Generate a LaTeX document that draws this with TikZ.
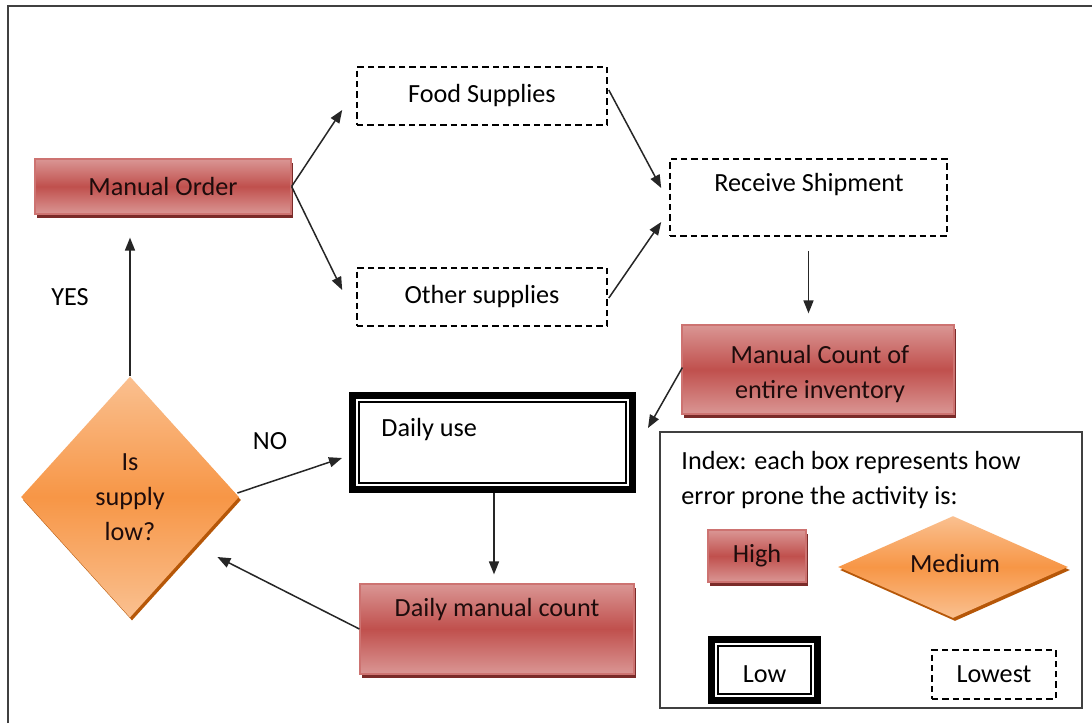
\documentclass[tikz,border=0pt]{standalone}
\usepackage{fontspec}
\setmainfont{Carlito}
\usetikzlibrary{arrows.meta,shapes.geometric,shadows,calc}
\definecolor{redmid}{HTML}{C0504D}
\definecolor{redlight}{HTML}{DA9694}
\definecolor{redshadow}{HTML}{7A2B29}
\definecolor{orgmid}{HTML}{F79646}
\definecolor{orglight}{HTML}{FAC090}
\definecolor{orgshadow}{HTML}{B65708}
\definecolor{framegray}{HTML}{404040}
\definecolor{darktext}{HTML}{1E0C0C}
\begin{document}
\begin{tikzpicture}[x=0.5pt,y=-0.5pt,
  font=\fontsize{13.1}{17.5}\selectfont,
  highbox/.style={rectangle, draw=redmid!80!white, line width=0.6pt,
    top color=redlight, bottom color=redlight, middle color=redmid,
    drop shadow={shadow xshift=1pt, shadow yshift=-1.8pt, fill=redshadow, opacity=1},
    inner sep=0pt, text=darktext, align=center},
  medium/.style={diamond, aspect=1, inner sep=0pt,
    top color=orglight, bottom color=orglight, middle color=orgmid,
    drop shadow={shadow xshift=1pt, shadow yshift=-1.5pt, fill=orgshadow, opacity=1},
    text=darktext, align=center},
  lowbox/.style={rectangle, draw=black, line width=3.5pt, fill=white, inner sep=0pt},
  lowinner/.style={draw=black, line width=0.9pt},
  lowestbox/.style={rectangle, draw=black, line width=0.8pt, dash pattern=on 3.2pt off 2pt, inner sep=0pt},
  legendbox/.style={rectangle, draw=framegray, line width=1pt, inner sep=0pt},
  txt/.style={inner sep=0pt, text=black},
  arr/.style={-{Triangle[length=6.5pt,width=5pt]}, line width=0.75pt, draw=black!85}
]
\useasboundingbox (0,0) rectangle (1092,723);
\fill[white] (0,0) rectangle (1092,723);
% outer frame
\draw[framegray, line width=1.3pt] (8,723) -- (8,6) -- (1092,6);

% flow nodes
\node[highbox, minimum width=128pt, minimum height=27.5pt] (mo) at (163,186.5) {Manual Order};
\node[lowestbox, minimum width=125pt, minimum height=29pt] (food) at (482,96) {Food Supplies};
\node[lowestbox, minimum width=125pt, minimum height=29pt] (other) at (482,297) {Other supplies};
\node[lowestbox, minimum width=138.5pt, minimum height=38.5pt] (recv) at (808.5,197.5) {};
\node[txt] (recvt) at (809,185) {Receive Shipment};
\node[highbox, minimum width=136pt, minimum height=44.5pt] (mc) at (818,369.5) {};
\node[txt, text=darktext, align=center] (mct) at (820,374) {Manual Count of\\entire inventory};
\node[lowbox, minimum width=140pt, minimum height=47pt] (du) at (492.5,442.5) {};
\draw[lowinner] ([xshift=5pt,yshift=-5pt]du.north west) rectangle ([xshift=-5pt,yshift=5pt]du.south east);
\node[txt, anchor=west] (dut) at (381,430) {Daily use};
\node[highbox, minimum width=137pt, minimum height=45pt] (dmc) at (497,629) {};
\node[txt, text=darktext] (dmct) at (497,610) {Daily manual count};
\node[medium, minimum width=109pt, minimum height=120.5pt] (dia) at (130,497) {Is\\supply\\low?};

\node[txt] (yes) at (70,297) {YES};
\node[txt] (no) at (270,441) {NO};

% legend
\node[legendbox, minimum width=211pt, minimum height=138pt] (legend) at (871,570) {};
\node[txt, anchor=west, align=left] (idx) at (681,480) {Index: each box represents how\\error prone the activity is:};
\node[highbox, minimum width=49pt, minimum height=26pt] (high) at (757,556) {High};
\node[medium, minimum width=115pt, minimum height=51pt] (med) at (953,567) {};
\node[txt, text=darktext] (medt) at (955,563) {Medium};
\node[lowbox, minimum width=53pt, minimum height=30.5pt] (low) at (764.5,670) {};
\draw[lowinner] ([xshift=5pt,yshift=-5pt]low.north west) rectangle ([xshift=-5pt,yshift=5pt]low.south east);
\node[txt] (lowt) at (764.5,674) {Low};
\node[lowestbox, minimum width=62pt, minimum height=24.5pt] (lowest) at (994,674.5) {Lowest};

% connectors
\draw[arr] (mo.east) -- ($(food.west)+(-14,14)$);
\draw[arr] (mo.east) -- ($(other.west)+(-14,-7)$);
\draw[arr] ($(food.east)+(1,-6)$) -- ($(recv.west)+(-8,-9.5)$);
\draw[arr] ($(other.east)+(1,1)$) -- ($(recv.west)+(-8,24.5)$);
\draw[arr] ($(recv.south)+(0,14)$) -- ($(recv.south |- mc.north)+(0,-11)$);
\draw[arr] ($(mc.west)+(1,-2)$) -- ($(du.east)+(12,-14.5)$);
\draw[arr] ($(du.south)+(1.5,0)$) -- ($(du.south |- dmc.north)+(1.5,-9)$);
\draw[arr] (dmc.west) -- ($(dia.east)+(-22,60)$);
\draw[arr] ($(dia.east)+(-2,-4)$) -- ($(du.west)+(-7,15.5)$);
\draw[arr] (dia.north) -- ($(dia.north |- mo.south)+(0,23)$);
\end{tikzpicture}
\end{document}
